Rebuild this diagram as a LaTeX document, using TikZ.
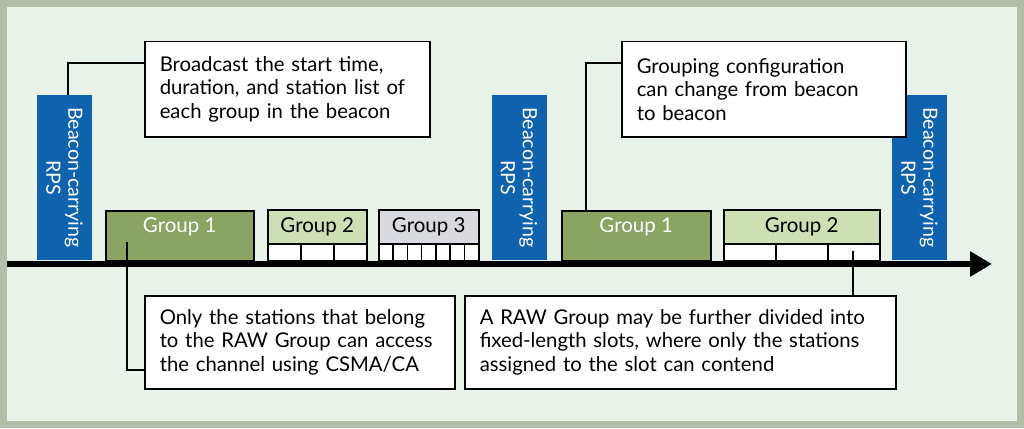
\documentclass[tikz,border=0pt]{standalone}
\usepackage{fontspec}
\setmainfont{Lato}
\usetikzlibrary{arrows.meta,positioning}

\definecolor{framegray}{HTML}{B3BEA8}
\definecolor{paper}{HTML}{E9F3EA}
\definecolor{rpsblue}{HTML}{0E62AE}
\definecolor{grpdark}{HTML}{8CA463}
\definecolor{grplight}{HTML}{CEDFB4}
\definecolor{grpgray}{HTML}{D9DADF}

\begin{document}
\begin{tikzpicture}[x=1pt, y=-1pt,
  beacon/.style={fill=rpsblue, text=white, rotate=-90, minimum width=165pt, minimum height=55pt, inner sep=0pt, align=center, font=\fontsize{19.6}{22}\selectfont},
  grp/.style={draw=black, line width=1.5pt, minimum height=34pt, inner sep=0pt, font=\fontsize{20.5}{22}\selectfont},
  grptext/.style={minimum height=33pt, inner sep=0pt, font=\fontsize{20.5}{22}\selectfont},
  slot/.style={draw=black, line width=1.5pt, fill=white, minimum height=17pt, inner sep=0pt},
  note/.style={draw=black, line width=1.5pt, fill=white, align=left, inner xsep=15pt, inner ysep=0pt, font=\fontsize{20.3}{23.5}\selectfont},
  link/.style={draw=black, line width=1.5pt}]

\useasboundingbox (0,0) rectangle (1024,428);
\fill[framegray] (0,0) rectangle (1024,428);
\fill[paper] (7,7) rectangle (1017,421);

\node[beacon] (b1) at (64.5,177.5) {Beacon-carrying\\RPS};
\node[beacon] (b2) at (519,177.5) {Beacon-carrying\\RPS};
\node[beacon] (b3) at (919.5,177.5) {Beacon-carrying\\RPS};

\node[grp, fill=grpdark, minimum width=148pt, minimum height=50pt, anchor=north west] (ga1) at (105,210) {};
\node[grptext, text=white, below=0pt of ga1.north] (ga1t) {Group 1};

\node[grp, fill=grplight, minimum width=99pt, anchor=north west] (ga2) at (267,209) {Group 2};
\foreach \i in {0,1,2}
  \node[slot, minimum width=33pt, anchor=north west] (ga2s\i) at ({267+33*\i},243) {};

\node[grp, fill=grpgray, minimum width=100pt, anchor=north west] (ga3) at (378,209) {Group 3};
\foreach \i in {0,...,6}
  \node[slot, minimum width=14.286pt, anchor=north west] (ga3s\i) at ({378+14.286*\i},243) {};

\node[grp, fill=grpdark, minimum width=149pt, minimum height=50pt, anchor=north west] (gb1) at (561,210) {};
\node[grptext, text=white, below=0pt of gb1.north] (gb1t) {Group 1};

\node[grp, fill=grplight, minimum width=156pt, anchor=north west] (gb2) at (723,209) {Group 2};
\foreach \i in {0,1,2}
  \node[slot, minimum width=52pt, anchor=north west] (gb2s\i) at ({723+52*\i},243) {};

\coordinate (t0) at (7,264);
\coordinate (t1) at (992,264);
\draw[line width=5.5pt, -{Triangle[length=22pt, width=24pt]}] (t0) -- (t1);

\node[note, text width=255pt, minimum height=95pt, anchor=north west] (c1) at (144,41)
  {Broadcast the start time,\\duration, and station list of\\each group in the beacon};

\node[note, text width=254pt, minimum height=95pt, anchor=north west] (c2) at (621,41)
  {Grouping configuration\\can change from beacon\\to beacon};

\node[note, text width=280pt, minimum height=93pt, anchor=north west] (c3) at (144,295)
  {Only the stations that belong\\to the RAW Group can access\\the channel using CSMA/CA};

\node[note, text width=401pt, minimum height=93pt, anchor=north west] (c4) at (464,295)
  {A RAW Group may be further divided into\\fixed-length slots, where only the stations\\assigned to the slot can contend};

\draw[link] ([xshift=3.5pt]b1.west) |- ([yshift=-22pt]c1.north west);

\draw[link] ([xshift=25pt]gb1.north west) |- ([yshift=-22pt]c2.north west);

\coordinate (p1) at (127,242);
\draw[link] (p1) |- ([yshift=-75pt]c3.north west);

\coordinate (p2) at (853,251);
\draw[link] (p2) -- (p2 |- c4.north);

\end{tikzpicture}
\end{document}
